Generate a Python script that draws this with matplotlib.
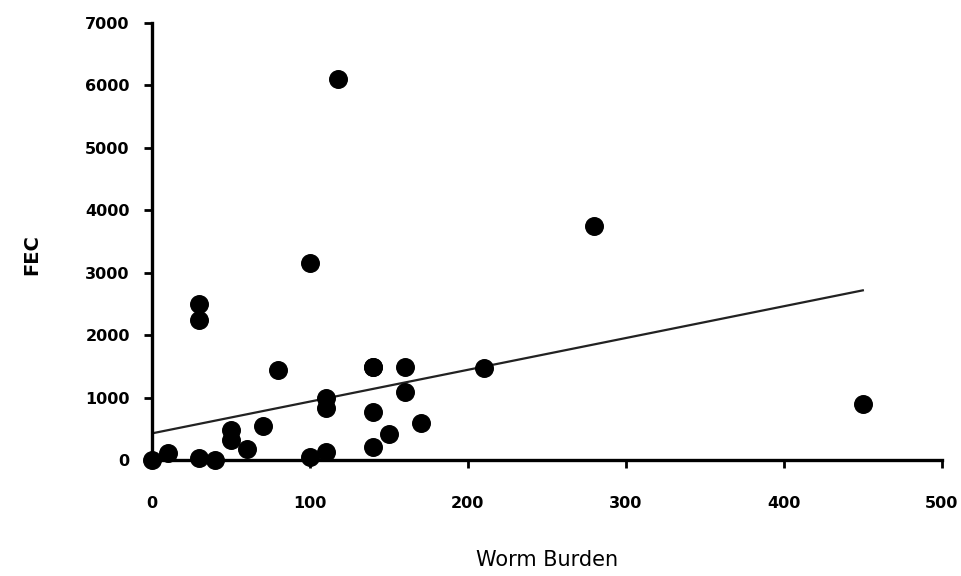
import matplotlib.pyplot as plt

# Worm burden vs faecal egg count
worm_burden = [0, 10, 30, 40, 30, 30, 50, 50, 60, 70, 80, 100, 100, 110, 110, 110,
               118, 140, 140, 140, 140, 150, 160, 160, 170, 210, 280, 450]
fec = [0, 110, 30, 0, 2500, 2240, 480, 320, 180, 545, 1450, 3150, 50, 1000, 830, 130,
       6100, 1500, 770, 210, 1500, 420, 1500, 1090, 590, 1470, 3750, 900]

# fitted regression line end points
line_x = [0, 450]
line_y = [430, 2720]

fig = plt.figure(figsize=(9.62, 5.76), dpi=100)
ax = fig.add_axes([0.158, 0.201, 0.821, 0.759])

ax.plot(line_x, line_y, color="#222222", lw=1.6, zorder=2)
ax.scatter(worm_burden, fec, s=160, color="black", zorder=3, clip_on=False)

ax.set_xlim(0, 500)
ax.set_ylim(0, 7000)
ax.set_xticks([0, 100, 200, 300, 400, 500])
ax.set_yticks(range(0, 7001, 1000))

for side in ["top", "right"]:
    ax.spines[side].set_visible(False)
for side in ["left", "bottom"]:
    ax.spines[side].set_linewidth(2.4)
ax.tick_params(width=2, length=6, labelsize=11.5)
ax.tick_params(axis="x", pad=20)
ax.tick_params(axis="y", pad=10)
for lbl in ax.get_xticklabels() + ax.get_yticklabels():
    lbl.set_fontweight("bold")

ax.set_xlabel("Worm Burden", fontsize=15, labelpad=28)
ax.set_ylabel("FEC", fontsize=14, fontweight="bold", labelpad=30)
ax.yaxis.set_label_coords(-0.14, 0.47)

fig.savefig("out.png", dpi=100)
